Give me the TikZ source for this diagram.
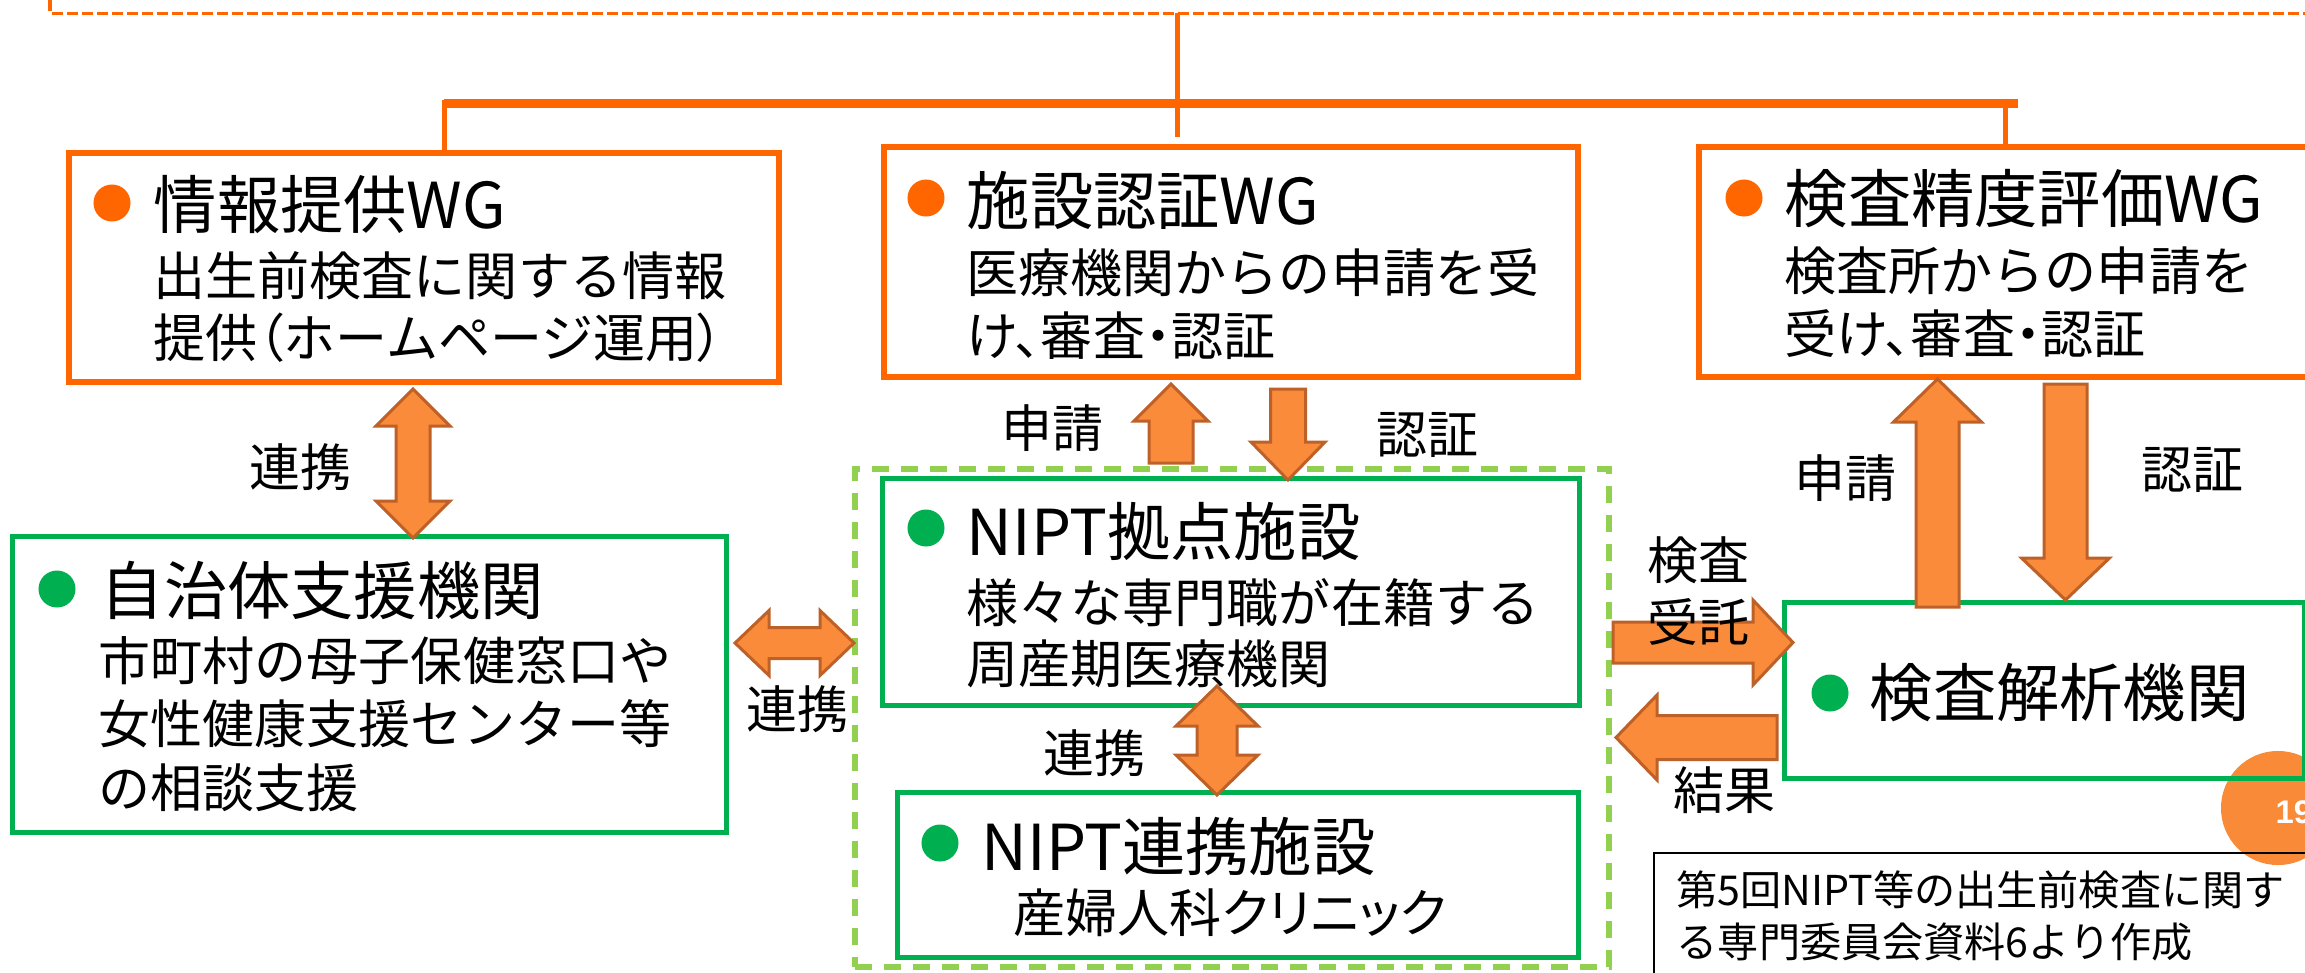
\documentclass[tikz,border=0pt]{standalone}
\usepackage{fontspec}
\setmainfont{Noto Sans CJK JP}
\newfontfamily\numfont{Liberation Sans}
\usetikzlibrary{calc}
\definecolor{wgorange}{HTML}{FF6600}
\definecolor{arrfill}{HTML}{F98B3A}
\definecolor{arrdraw}{HTML}{BE6128}
\definecolor{boxgreen}{HTML}{00B050}
\definecolor{lightgreen}{HTML}{92D050}
\definecolor{numorange}{HTML}{F88A38}
\newcommand\pal[1]{{\addfontfeatures{RawFeature=+palt}#1}}
% block arrow paths
\newcommand\VDoubleArrowPath[6]{(#1,#2) -- ({#1+#5},{#2+#6}) -- ({#1+#4},{#2+#6}) -- ({#1+#4},{#3-#6}) -- ({#1+#5},{#3-#6}) -- (#1,#3) -- ({#1-#5},{#3-#6}) -- ({#1-#4},{#3-#6}) -- ({#1-#4},{#2+#6}) -- ({#1-#5},{#2+#6}) -- cycle}
\newcommand\HDoubleArrowPath[6]{(#2,#1) -- ({#2+#6},{#1-#5}) -- ({#2+#6},{#1-#4}) -- ({#3-#6},{#1-#4}) -- ({#3-#6},{#1-#5}) -- (#3,#1) -- ({#3-#6},{#1+#5}) -- ({#3-#6},{#1+#4}) -- ({#2+#6},{#1+#4}) -- ({#2+#6},{#1+#5}) -- cycle}
\newcommand\UpArrowPath[6]{(#1,#2) -- ({#1+#5},{#2+#6}) -- ({#1+#4},{#2+#6}) -- ({#1+#4},#3) -- ({#1-#4},#3) -- ({#1-#4},{#2+#6}) -- ({#1-#5},{#2+#6}) -- cycle}
\newcommand\DownArrowPath[6]{({#1-#4},#2) -- ({#1+#4},#2) -- ({#1+#4},{#3-#6}) -- ({#1+#5},{#3-#6}) -- (#1,#3) -- ({#1-#5},{#3-#6}) -- ({#1-#4},{#3-#6}) -- cycle}
\newcommand\RightArrowPath[6]{(#2,{#1-#4}) -- ({#3-#6},{#1-#4}) -- ({#3-#6},{#1-#5}) -- (#3,#1) -- ({#3-#6},{#1+#5}) -- ({#3-#6},{#1+#4}) -- (#2,{#1+#4}) -- cycle}
\newcommand\LeftArrowPath[6]{(#2,#1) -- ({#2+#6},{#1-#5}) -- ({#2+#6},{#1-#4}) -- (#3,{#1-#4}) -- (#3,{#1+#4}) -- ({#2+#6},{#1+#4}) -- ({#2+#6},{#1+#5}) -- cycle}
\begin{document}
\begin{tikzpicture}[x=0.01cm,y=-0.01cm,
  wgbox/.style={draw=wgorange, line width=0.055cm, rectangle, inner sep=0},
  grbox/.style={draw=boxgreen, line width=0.05cm, rectangle, inner sep=0},
  groupbox/.style={draw=lightgreen, line width=0.055cm, dash pattern=on 0.17cm off 0.12cm, rectangle, inner sep=0},
  topdash/.style={draw=wgorange, line width=0.03cm, dash pattern=on 0.11cm off 0.04cm},
  thinorange/.style={draw=wgorange, line width=0.05cm},
  thickorange/.style={draw=wgorange, line width=0.09cm},
  blockarrow/.style={fill=arrfill, draw=arrdraw, line width=0.03cm, line join=miter},
  titletext/.style={font=\fontsize{18pt}{21pt}\selectfont, anchor=west, inner sep=0},
  bodytext/.style={font=\fontsize{14.8pt}{0.625cm}\selectfont, anchor=west, align=left, inner sep=0},
  lbl/.style={font=\fontsize{14.5pt}{0.62cm}\selectfont, inner sep=0, align=left},
  obullet/.style={circle, fill=wgorange, minimum size=0.37cm, inner sep=0},
  gbullet/.style={circle, fill=boxgreen, minimum size=0.37cm, inner sep=0},
  srctext/.style={font=\fontsize{11.7pt}{0.52cm}\selectfont, anchor=west, align=left, inner sep=0}
]
\useasboundingbox (0,0) rectangle (2305,972);

% top frame and tree lines
\coordinate (frameTL) at (50,-30);
\coordinate (frameBL) at (50,13);
\coordinate (frameBR) at (2340,13);
\draw[topdash] (frameTL) -- (frameBL) -- (frameBR);

% WG boxes
\node[wgbox, minimum width=7.10cm, minimum height=2.29cm] (A) at (424,267.5) {};
\node[wgbox, minimum width=6.94cm, minimum height=2.30cm] (B) at (1231,262) {};
\node[wgbox, minimum width=6.41cm, minimum height=2.30cm] (C) at (2019.5,262) {};

\coordinate (trunkTop) at (1177,13);
\coordinate (trunkBot) at (1177,137);
\coordinate (barL) at (444,103);
\coordinate (barR) at (2018,103);
\coordinate (dropL) at (444,100);
\coordinate (dropR) at (2005,107);
\draw[thinorange] (trunkTop) -- (trunkBot);
\draw[thickorange] (barL) -- (barR);
\draw[thinorange] (dropL) -- (dropL |- A.north);
\draw[thinorange] (dropR) -- (dropR |- C.north);

% green boxes
\node[groupbox, minimum width=7.54cm, minimum height=4.98cm] (grp) at (1232,718) {};
\node[grbox, minimum width=7.13cm, minimum height=2.95cm] (D) at (369.5,684.5) {};
\node[grbox, minimum width=6.96cm, minimum height=2.26cm] (E) at (1231,592) {};
\node[grbox, minimum width=6.80cm, minimum height=1.64cm] (F) at (1238,875) {};

% slide number circle (behind box G border)
\node[circle, fill=numorange, minimum size=1.14cm, inner sep=0] (num) at (2278,808) {};
\node[anchor=west, inner sep=0, text=white, font=\numfont\bfseries\fontsize{9.3pt}{11pt}\selectfont] (numtxt) at (2275,812) {19};
\node[grbox, minimum width=5.19cm, minimum height=1.75cm] (G) at (2044.5,690.5) {};

% source box
\coordinate (srcTR) at (2340,853);
\coordinate (srcTL) at (1654,853);
\coordinate (srcBL) at (1654,990);
\draw[black, line width=0.02cm] (srcBL) -- (srcTL) -- (srcTR);
\node[srctext] (src) at (1676,916) {第5回NIPT等の出生前検査に関す\\る専門委員会資料6より作成};

% texts in WG boxes
\node[obullet] (Ab) at (112,203) {};
\node[titletext] (At) at (153,205) {情報提供WG};
\node[bodytext] (Ax) at (153,307) {出生前検査に関する情報\\提供\pal{（}ホームページ運用\pal{）}};

\node[obullet] (Bb) at (926,198) {};
\node[titletext] (Bt) at (966,200) {施設認証WG};
\node[bodytext] (Bx) at (966,304) {医療機関からの申請を受\\\pal{け、審査・認証}};

\node[obullet] (Cb) at (1744,198) {};
\node[titletext] (Ct) at (1784,199) {検査精度評価WG};
\node[bodytext] (Cx) at (1784,302) {検査所からの申請を\\\pal{受け、審査・認証}};

% texts in green boxes
\node[gbullet] (Db) at (57,589) {};
\node[titletext] (Dt) at (100,590) {自治体支援機関};
\node[bodytext, font=\fontsize{14.8pt}{0.635cm}\selectfont] (Dx) at (98,724) {市町村の母子保健窓口や\\女性健康支援センター等\\の相談支援};

\node[gbullet] (Eb) at (926,528) {};
\node[titletext] (Et) at (966,531) {NIPT拠点施設};
\node[bodytext, font=\fontsize{14.8pt}{0.61cm}\selectfont] (Ex) at (966,633) {様々な専門職が在籍する\\周産期医療機関};

\node[gbullet] (Fb) at (940,843) {};
\node[titletext] (Ft) at (981,846) {NIPT連携施設};
\node[bodytext] (Fx) at (1013,913) {産婦人科\pal{クリニック}};

\node[gbullet] (Gb) at (1830,693) {};
\node[titletext] (Gt) at (1869,693) {検査解析機関};

% block arrows
\filldraw[blockarrow] \VDoubleArrowPath{413}{389}{538}{17}{37}{37};
\filldraw[blockarrow] \HDoubleArrowPath{643}{735}{854}{15.5}{32.5}{34};
\filldraw[blockarrow] \UpArrowPath{1171}{384}{463}{22}{37}{37};
\filldraw[blockarrow] \DownArrowPath{1288}{389}{480}{17.5}{37}{38};
\filldraw[blockarrow] \VDoubleArrowPath{1217}{686}{795}{20}{41}{40};
\filldraw[blockarrow] \RightArrowPath{642.5}{1613}{1793}{20.5}{42.5}{40};
\filldraw[blockarrow] \LeftArrowPath{737.5}{1616}{1777}{22}{42.5}{41};
\filldraw[blockarrow] \UpArrowPath{1937.5}{379}{607}{21.5}{44}{43};
\filldraw[blockarrow] \DownArrowPath{2065.5}{384}{600}{21.5}{44}{42};

% arrow labels
\node[lbl] (l1) at (300,467) {連携};
\node[lbl] (l2) at (797,709) {連携};
\node[lbl] (l3) at (1052,428) {申請};
\node[lbl] (l4) at (1427,435) {認証};
\node[lbl] (l5) at (1094,753) {連携};
\node[lbl, anchor=west] (l6) at (1647,591) {検査\\受託};
\node[lbl] (l7) at (1724,790) {結果};
\node[lbl] (l8) at (1845,478) {申請};
\node[lbl] (l9) at (2192,470) {認証};
\end{tikzpicture}
\end{document}
